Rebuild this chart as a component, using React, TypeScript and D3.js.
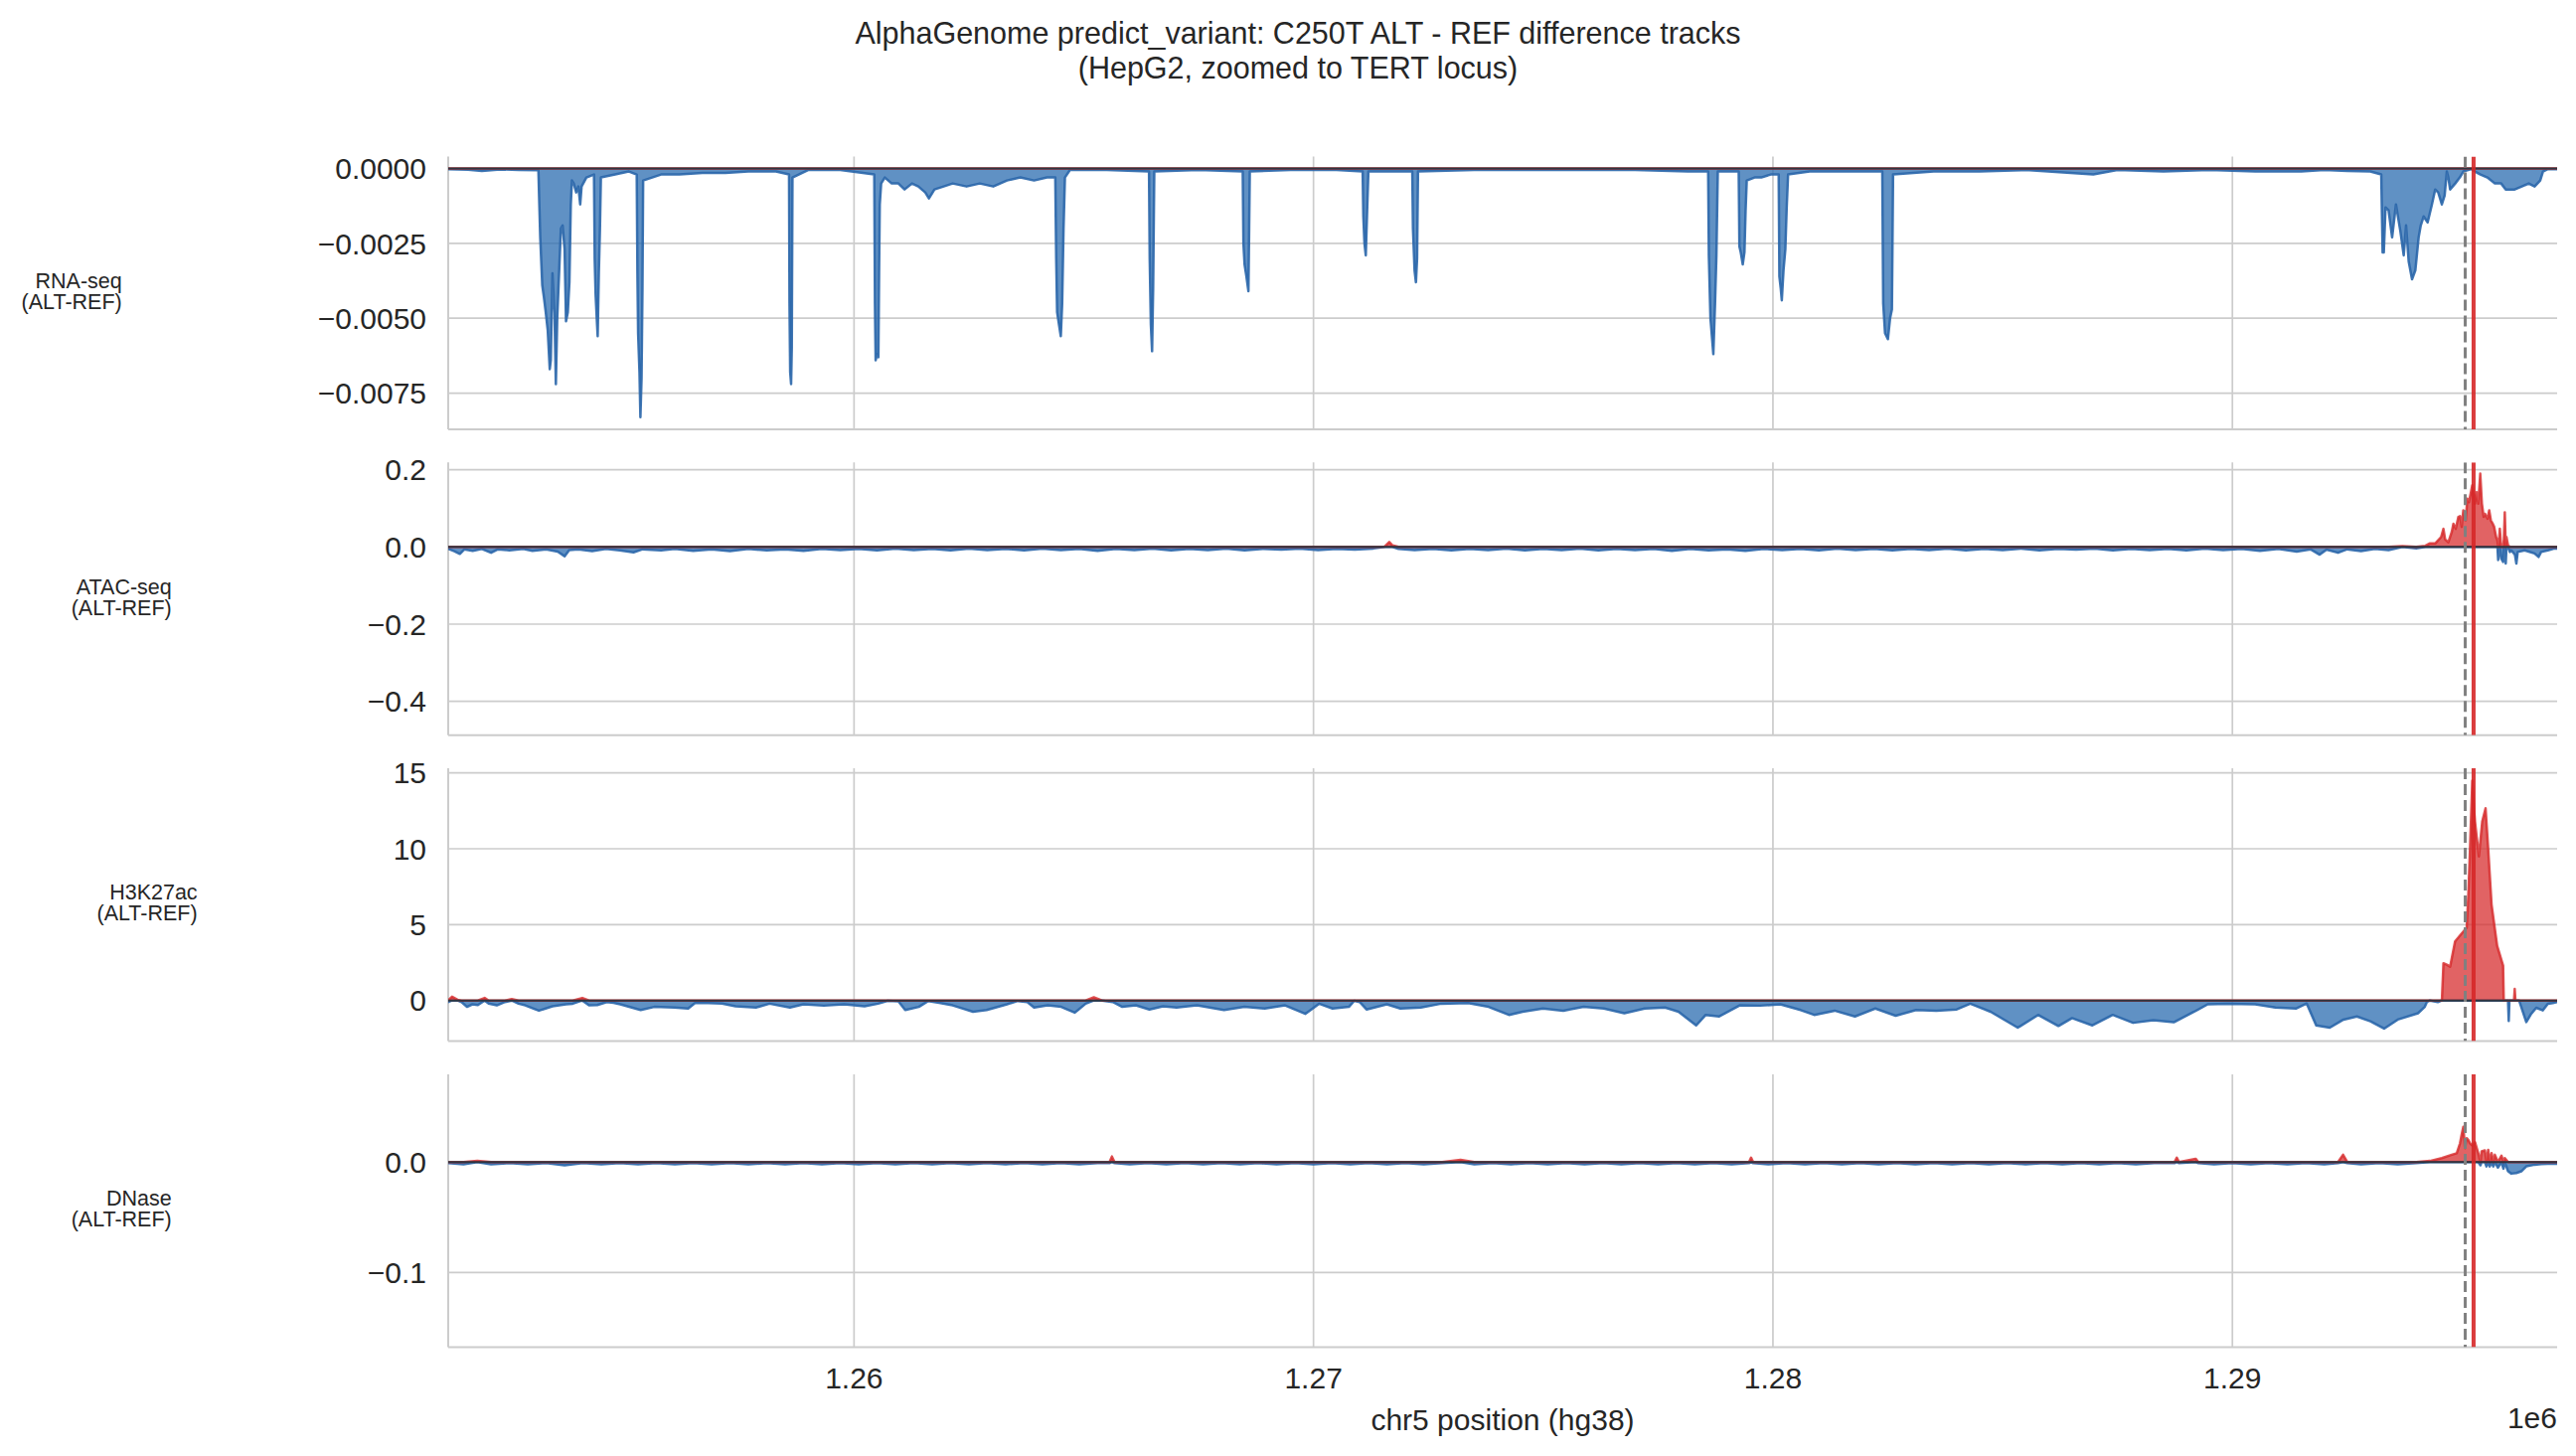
import React from "react";
import * as d3 from "d3";

// genomic window (chr5, hg38) and marker positions
const xDomain: [number, number] = [1251167, 1297068];
const tssPos = 1295068;
const variantPos = 1295250;
const xTicks = [1260000, 1270000, 1280000, 1290000];
const xTickLabels = ["1.26", "1.27", "1.28", "1.29"];

// ALT - REF difference, [position, value]
const rnaSeq: [number, number][] = [
  [1251167, -0.00002], [1251600, -0.00004], [1251900, -0.00008], [1252300, -0.00003], [1252700, -0.00005],
  [1253130, -0.00006], [1253150, -0.0012], [1253170, -0.0023], [1253214, -0.0039], [1253250, -0.0043],
  [1253290, -0.0048], [1253333, -0.0054], [1253377, -0.0067], [1253400, -0.0064], [1253436, -0.0035],
  [1253480, -0.0048], [1253510, -0.0072], [1253540, -0.005], [1253580, -0.0035], [1253620, -0.002],
  [1253657, -0.0019], [1253700, -0.0027], [1253731, -0.0051], [1253770, -0.0048], [1253805, -0.0038],
  [1253835, -0.0012], [1253860, -0.0004], [1253900, -0.0005], [1253953, -0.0008], [1254000, -0.0006],
  [1254040, -0.0012], [1254070, -0.0006], [1254174, -0.0003], [1254340, -0.0002], [1254355, -0.003],
  [1254375, -0.0042], [1254400, -0.005], [1254420, -0.0056], [1254445, -0.0035], [1254470, -0.002],
  [1254490, -0.0003], [1254800, -0.0002], [1255100, -0.0001], [1255270, -0.0002], [1255285, -0.0035],
  [1255300, -0.0055], [1255330, -0.0068], [1255350, -0.0083], [1255375, -0.007], [1255395, -0.004],
  [1255410, -0.0004], [1255800, -0.0002], [1256200, -0.0002], [1256700, -0.00015], [1257200, -0.00015],
  [1257700, -0.0001], [1258300, -0.0001], [1258585, -0.0002], [1258595, -0.0045], [1258610, -0.0068],
  [1258630, -0.0072], [1258645, -0.006], [1258660, -0.0003], [1259000, -0.00005], [1259700, -0.00005],
  [1260440, -0.0002], [1260455, -0.0045], [1260470, -0.0064], [1260500, -0.0062], [1260530, -0.0063],
  [1260545, -0.0035], [1260560, -0.0012], [1260590, -0.0005], [1260670, -0.0003], [1260820, -0.0005],
  [1260965, -0.0005], [1261100, -0.0007], [1261261, -0.0005], [1261400, -0.0006], [1261550, -0.0008],
  [1261630, -0.001], [1261750, -0.0007], [1261950, -0.0006], [1262147, -0.0005], [1262450, -0.0006],
  [1262737, -0.0005], [1263030, -0.0006], [1263328, -0.0004], [1263620, -0.0003], [1263918, -0.0004],
  [1264200, -0.0003], [1264380, -0.0003], [1264400, -0.003], [1264420, -0.0048], [1264460, -0.0052],
  [1264500, -0.0056], [1264530, -0.0045], [1264560, -0.002], [1264590, -0.0003], [1264700, -0.00005],
  [1265500, -0.00005], [1266420, -0.0001], [1266435, -0.003], [1266460, -0.0052], [1266487, -0.0061],
  [1266510, -0.004], [1266535, -0.0001], [1267500, -0.00005], [1268460, -0.0001], [1268475, -0.0025],
  [1268500, -0.0032], [1268540, -0.0036], [1268584, -0.0041], [1268600, -0.002], [1268614, -0.0001],
  [1269500, -0.00005], [1270500, -0.00005], [1271070, -0.0001], [1271085, -0.0016], [1271110, -0.0025],
  [1271138, -0.0029], [1271170, -0.0013], [1271195, -0.0001], [1272150, -0.0001], [1272165, -0.002],
  [1272200, -0.0034], [1272230, -0.0038], [1272255, -0.003], [1272275, -0.0001], [1273500, -0.00005],
  [1275000, -0.00005], [1277000, -0.00005], [1278150, -0.0001], [1278590, -0.0001], [1278605, -0.0029],
  [1278640, -0.005], [1278703, -0.0062], [1278740, -0.0045], [1278770, -0.0029], [1278800, -0.0001],
  [1279255, -0.0001], [1279270, -0.0026], [1279300, -0.0028], [1279343, -0.0032], [1279380, -0.0028],
  [1279405, -0.0014], [1279430, -0.0004], [1279600, -0.0003], [1279746, -0.0003], [1279950, -0.0002],
  [1280125, -0.0002], [1280140, -0.0036], [1280170, -0.004], [1280193, -0.0044], [1280230, -0.0034],
  [1280270, -0.0027], [1280300, -0.0013], [1280330, -0.0002], [1280800, -0.0001], [1281500, -0.0001],
  [1282380, -0.0001], [1282400, -0.0045], [1282440, -0.0055], [1282502, -0.0057], [1282550, -0.005],
  [1282590, -0.0047], [1282615, -0.0002], [1283500, -0.0001], [1284500, -0.0001], [1285500, -0.00005],
  [1286972, -0.0002], [1287500, -0.00005], [1288500, -0.0001], [1289500, -0.00005], [1290500, -0.0001],
  [1291500, -0.0001], [1292000, -0.00005], [1292500, -0.00008], [1293000, -0.0001], [1293240, -0.0002],
  [1293270, -0.0028], [1293296, -0.0028], [1293333, -0.0013], [1293400, -0.0014], [1293477, -0.0023],
  [1293560, -0.0012], [1293657, -0.0021], [1293729, -0.0029], [1293780, -0.0019], [1293837, -0.0031],
  [1293910, -0.0037], [1293982, -0.0034], [1294054, -0.0023], [1294100, -0.0019], [1294162, -0.0016],
  [1294250, -0.0018], [1294343, -0.0012], [1294414, -0.0007], [1294480, -0.0008], [1294559, -0.0012],
  [1294620, -0.0009], [1294667, -0.0001], [1294700, -0.0003], [1294739, -0.0007], [1294850, -0.0005],
  [1294950, -0.0003], [1295027, -0.0001], [1295200, -0.00002], [1295280, -0.0001], [1295400, -0.0002],
  [1295550, -0.0003], [1295713, -0.0005], [1295850, -0.0005], [1295950, -0.0007], [1296145, -0.0007],
  [1296300, -0.0006], [1296450, -0.0005], [1296578, -0.0006], [1296700, -0.0004], [1296760, -0.0001],
  [1296866, -0.00002], [1297068, -0.00002],
];

const atacSeq: [number, number][] = [
  [1251167, -0.005], [1251300, -0.011], [1251420, -0.018], [1251520, -0.006], [1251700, -0.01],
  [1251900, -0.005], [1252100, -0.015], [1252250, -0.006], [1252500, -0.009], [1252800, -0.005],
  [1253000, -0.01], [1253300, -0.006], [1253550, -0.012], [1253700, -0.024], [1253800, -0.008],
  [1254000, -0.006], [1254300, -0.011], [1254600, -0.005], [1254900, -0.009], [1255200, -0.014],
  [1255400, -0.006], [1255800, -0.009], [1256100, -0.005], [1256500, -0.01], [1256900, -0.006],
  [1257300, -0.011], [1257700, -0.005], [1258100, -0.009], [1258500, -0.006], [1258900, -0.01],
  [1259300, -0.005], [1259700, -0.008], [1260100, -0.005], [1260500, -0.009], [1260900, -0.004],
  [1261300, -0.008], [1261700, -0.005], [1262100, -0.009], [1262500, -0.004], [1262900, -0.008],
  [1263300, -0.005], [1263700, -0.009], [1264100, -0.004], [1264500, -0.008], [1264900, -0.005],
  [1265300, -0.01], [1265700, -0.005], [1266100, -0.008], [1266500, -0.004], [1266900, -0.009],
  [1267300, -0.005], [1267700, -0.008], [1268100, -0.004], [1268500, -0.009], [1268900, -0.005],
  [1269300, -0.007], [1269700, -0.004], [1270100, -0.008], [1270500, -0.005], [1270900, -0.007],
  [1271300, -0.004], [1271550, 0.001], [1271650, 0.013], [1271720, 0.004], [1271850, -0.005],
  [1272200, -0.008], [1272600, -0.005], [1273000, -0.009], [1273400, -0.005], [1273800, -0.008],
  [1274200, -0.004], [1274600, -0.009], [1275000, -0.005], [1275400, -0.008], [1275800, -0.004],
  [1276200, -0.009], [1276600, -0.005], [1277000, -0.008], [1277400, -0.005], [1277800, -0.01],
  [1278200, -0.005], [1278600, -0.009], [1279000, -0.006], [1279400, -0.01], [1279800, -0.005],
  [1280200, -0.008], [1280600, -0.005], [1281000, -0.009], [1281400, -0.004], [1281800, -0.008],
  [1282200, -0.005], [1282600, -0.009], [1283000, -0.005], [1283400, -0.008], [1283800, -0.004],
  [1284200, -0.009], [1284600, -0.005], [1285000, -0.008], [1285400, -0.004], [1285800, -0.009],
  [1286200, -0.005], [1286600, -0.007], [1287000, -0.004], [1287400, -0.009], [1287800, -0.005],
  [1288200, -0.008], [1288600, -0.005], [1289000, -0.009], [1289400, -0.004], [1289800, -0.008],
  [1290200, -0.005], [1290600, -0.01], [1291000, -0.005], [1291400, -0.012], [1291700, -0.006],
  [1291900, -0.02], [1292050, -0.007], [1292300, -0.015], [1292500, -0.006], [1292800, -0.011],
  [1293100, -0.005], [1293400, -0.008], [1293700, 0.002], [1294000, -0.004], [1294200, 0.003],
  [1294291, 0.009], [1294414, 0.009], [1294544, 0.026], [1294594, 0.047], [1294630, 0.02],
  [1294700, 0.012], [1294775, 0.039], [1294811, 0.06], [1294862, 0.047], [1294919, 0.078],
  [1294955, 0.08], [1294991, 0.052], [1295027, 0.095], [1295078, 0.069], [1295114, 0.125],
  [1295150, 0.116], [1295222, 0.16], [1295280, 0.112], [1295316, 0.142], [1295352, 0.112],
  [1295395, 0.19], [1295431, 0.112], [1295470, 0.078], [1295496, 0.086], [1295554, 0.073],
  [1295590, 0.095], [1295626, 0.069], [1295660, 0.062], [1295698, 0.052], [1295740, 0.026],
  [1295770, 0.017], [1295785, -0.034], [1295800, 0.01], [1295821, 0.047], [1295850, -0.03],
  [1295893, -0.039], [1295910, 0.02], [1295929, 0.09], [1295950, -0.043], [1295965, 0.026],
  [1296000, 0.004], [1296040, -0.013], [1296073, -0.009], [1296150, -0.02], [1296181, -0.043],
  [1296210, -0.013], [1296361, -0.009], [1296450, -0.012], [1296578, -0.017], [1296664, -0.026],
  [1296720, -0.013], [1296866, -0.009], [1297010, -0.004], [1297068, -0.004],
];

const h3k27ac: [number, number][] = [
  [1251162, -0.1], [1251250, 0.25], [1251369, 0.05], [1251458, -0.1], [1251576, -0.42], [1251694, -0.25],
  [1251812, -0.3], [1251960, 0.17], [1252048, -0.2], [1252225, -0.32], [1252403, -0.1], [1252550, 0.1],
  [1252698, -0.21], [1252845, -0.32], [1253141, -0.67], [1253436, -0.38], [1253731, -0.25], [1253879, -0.21],
  [1254086, 0.17], [1254233, -0.32], [1254411, -0.3], [1254617, -0.1], [1254765, -0.15], [1254913, -0.25],
  [1255356, -0.63], [1255651, -0.42], [1256094, -0.46], [1256389, -0.53], [1256537, -0.17], [1256832, -0.17],
  [1257127, -0.2], [1257423, -0.38], [1257866, -0.46], [1258161, -0.21], [1258604, -0.46], [1258899, -0.25],
  [1259342, -0.34], [1259785, -0.25], [1260228, -0.38], [1260523, -0.21], [1260730, -0.02], [1260966, -0.05],
  [1261114, -0.63], [1261409, -0.42], [1261616, -0.03], [1261852, -0.15], [1262147, -0.32], [1262590, -0.74],
  [1262886, -0.63], [1263329, -0.25], [1263565, -0.03], [1263772, -0.1], [1263919, -0.46], [1264215, -0.32],
  [1264510, -0.42], [1264805, -0.8], [1265041, -0.21], [1265219, 0.21], [1265396, 0.0], [1265632, -0.1],
  [1265839, -0.42], [1266134, -0.32], [1266429, -0.59], [1266725, -0.38], [1267020, -0.46], [1267463, -0.32],
  [1268053, -0.63], [1268496, -0.42], [1268939, -0.53], [1269382, -0.32], [1269825, -0.88], [1270121, -0.21],
  [1270416, -0.53], [1270770, -0.42], [1270888, -0.02], [1271006, -0.1], [1271154, -0.59], [1271597, -0.25],
  [1271892, -0.53], [1272335, -0.46], [1272778, -0.21], [1273369, -0.17], [1273812, -0.42], [1274255, -0.95],
  [1274550, -0.74], [1274993, -0.53], [1275436, -0.67], [1275879, -0.42], [1276322, -0.53], [1276765, -0.84],
  [1277208, -0.53], [1277651, -0.46], [1277946, -0.74], [1278330, -1.64], [1278537, -0.95], [1278832, -1.05],
  [1279275, -0.32], [1279718, -0.34], [1280161, -0.25], [1280604, -0.63], [1280899, -0.95], [1281342, -0.67],
  [1281785, -1.05], [1282228, -0.53], [1282671, -1.0], [1283114, -0.63], [1283557, -0.67], [1284000, -0.59],
  [1284295, -0.21], [1284738, -0.74], [1285328, -1.79], [1285771, -0.95], [1286214, -1.68], [1286510, -1.16],
  [1286953, -1.64], [1287396, -0.95], [1287839, -1.47], [1288281, -1.3], [1288724, -1.43], [1289167, -0.74],
  [1289463, -0.25], [1289906, -0.21], [1290496, -0.25], [1290939, -0.46], [1291382, -0.53], [1291618, -0.2],
  [1291825, -1.64], [1292120, -1.79], [1292416, -1.26], [1292711, -1.05], [1293006, -1.37], [1293302, -1.85],
  [1293597, -1.26], [1294040, -0.84], [1294187, -0.42], [1294234, -0.1], [1294300, 0.0], [1294472, -0.1],
  [1294560, 0.0], [1294594, 2.45], [1294667, 2.36], [1294739, 2.23], [1294847, 3.89], [1294977, 4.37],
  [1295100, 4.8], [1295136, 7.0], [1295172, 10.0], [1295222, 14.48], [1295280, 11.8], [1295366, 9.5],
  [1295438, 11.8], [1295511, 12.67], [1295568, 10.0], [1295641, 6.33], [1295763, 3.6], [1295893, 2.29],
  [1295907, 0.0], [1296000, 0.0], [1296015, -1.35], [1296030, 0.0], [1296130, 0.0], [1296145, 0.76],
  [1296160, 0.0], [1296240, 0.0], [1296289, -0.44], [1296397, -1.42], [1296506, -0.87], [1296614, -0.48],
  [1296758, -0.65], [1296866, -0.22], [1296974, -0.17], [1297068, -0.1],
];

const dnase: [number, number][] = [
  [1251167, -0.001], [1251500, -0.002], [1251800, 0.001], [1252100, -0.002], [1252500, -0.001],
  [1252900, -0.002], [1253300, -0.001], [1253700, -0.003], [1254100, -0.001], [1254500, -0.002],
  [1254900, -0.001], [1255300, -0.002], [1255700, -0.001], [1256100, -0.002], [1256500, -0.001],
  [1256900, -0.002], [1257300, -0.001], [1257700, -0.002], [1258100, -0.001], [1258500, -0.002],
  [1258900, -0.001], [1259300, -0.002], [1259700, -0.001], [1260100, -0.002], [1260500, -0.001],
  [1260900, -0.002], [1261300, -0.001], [1261700, -0.002], [1262100, -0.001], [1262500, -0.002],
  [1262900, -0.001], [1263300, -0.002], [1263700, -0.001], [1264100, -0.002], [1264500, -0.001],
  [1264900, -0.002], [1265300, -0.001], [1265560, -0.001], [1265613, 0.005], [1265670, -0.001],
  [1266000, -0.002], [1266400, -0.001], [1266800, -0.002], [1267200, -0.001], [1267600, -0.002],
  [1268000, -0.001], [1268400, -0.002], [1268800, -0.001], [1269200, -0.002], [1269600, -0.001],
  [1270000, -0.002], [1270400, -0.001], [1270800, -0.002], [1271200, -0.001], [1271600, -0.002],
  [1272000, -0.001], [1272400, -0.002], [1272800, -0.001], [1273200, 0.002], [1273500, -0.002],
  [1273900, -0.001], [1274300, -0.002], [1274700, -0.001], [1275100, -0.002], [1275500, -0.001],
  [1275900, -0.002], [1276300, -0.001], [1276700, -0.002], [1277100, -0.001], [1277500, -0.002],
  [1277900, -0.001], [1278300, -0.002], [1278700, -0.001], [1279100, -0.002], [1279480, -0.001],
  [1279524, 0.004], [1279570, -0.001], [1279900, -0.002], [1280300, -0.001], [1280700, -0.002],
  [1281100, -0.001], [1281500, -0.002], [1281900, -0.001], [1282300, -0.002], [1282700, -0.001],
  [1283100, -0.002], [1283500, -0.001], [1283900, -0.002], [1284300, -0.001], [1284700, -0.002],
  [1285100, -0.001], [1285500, -0.002], [1285900, -0.001], [1286300, -0.002], [1286700, -0.001],
  [1287100, -0.002], [1287500, -0.001], [1287900, -0.002], [1288300, -0.001], [1288740, -0.001],
  [1288790, 0.004], [1288840, -0.001], [1289200, 0.003], [1289260, -0.001], [1289600, -0.002],
  [1290000, -0.001], [1290400, -0.002], [1290800, -0.001], [1291200, -0.002], [1291600, -0.001],
  [1292000, -0.002], [1292300, -0.001], [1292409, 0.0066], [1292500, -0.001], [1292800, -0.002],
  [1293200, -0.001], [1293600, -0.002], [1294000, -0.001], [1294300, 0.001], [1294559, 0.0036],
  [1294775, 0.0066], [1294883, 0.008], [1294955, 0.017], [1294991, 0.025], [1295027, 0.032],
  [1295063, 0.0126], [1295100, 0.0216], [1295136, 0.02], [1295172, 0.017], [1295222, 0.015],
  [1295280, 0.018], [1295352, 0.008], [1295400, -0.003], [1295424, 0.0096], [1295496, 0.0105],
  [1295530, -0.004], [1295568, 0.011], [1295600, -0.004], [1295641, 0.008], [1295680, -0.004],
  [1295713, 0.0066], [1295780, -0.005], [1295857, 0.0057], [1295900, -0.006], [1295929, 0.0036],
  [1296001, -0.0084], [1296073, -0.0105], [1296181, -0.0099], [1296289, -0.0084], [1296397, -0.0039],
  [1296578, -0.0024], [1296722, -0.0018], [1296866, -0.0015], [1297068, -0.0015],
];

const trackNames = ["RNA-seq", "ATAC-seq", "H3K27ac", "DNase"];
const trackData = [rnaSeq, atacSeq, h3k27ac, dnase];
const yDomains: [number, number][] = [[-0.00871, 0.0004], [-0.488, 0.219], [-2.68, 15.3], [-0.1676, 0.0795]];
const yTicks = [[0, -0.0025, -0.005, -0.0075], [0.2, 0, -0.2, -0.4], [0, 5, 10, 15], [0, -0.1]];
const yFormats = [".4f", ".1f", ".0f", ".1f"];

const W = 2592;
const H = 1465;
const left = 451;
const right = 2573;
const top0 = 157.5;
const step = 307.8;
const panelH = 274.5;
const FONT = '"Liberation Sans", Arial, sans-serif';
const TXT = "#262626";

const BLUE = "#2b6cb0";
const BLUE_LINE = "#2a66aa";
const RED = "#d62728";

const measure = (() => {
  const ctx = document.createElement("canvas").getContext("2d");
  return (s: string, size: number) => {
    if (!ctx) return s.length * size * 0.55;
    ctx.font = `${size}px "Liberation Sans", Arial, sans-serif`;
    return ctx.measureText(s).width;
  };
})();

const x = d3.scaleLinear().domain(xDomain).range([left, right]);

function Panel({ i }: { i: number }) {
  const top = top0 + i * step;
  const bottom = top + panelH;
  const y = d3.scaleLinear().domain(yDomains[i]).range([bottom, top]);
  const data = trackData[i];
  const fmt = d3.format(yFormats[i]);
  const posArea = d3.area<[number, number]>().x((d) => x(d[0])).y0(y(0)).y1((d) => y(Math.max(d[1], 0)));
  const negArea = d3.area<[number, number]>().x((d) => x(d[0])).y0(y(0)).y1((d) => y(Math.min(d[1], 0)));
  const posLine = d3.line<[number, number]>().x((d) => x(d[0])).y((d) => y(Math.max(d[1], 0)));
  const negLine = d3.line<[number, number]>().x((d) => x(d[0])).y((d) => y(Math.min(d[1], 0)));
  const tickW = d3.max(yTicks[i], (t) => measure(fmt(t), 30)) || 0;
  const labelX = left - 22 - tickW - 197;
  const cy = (top + bottom) / 2;
  const clipId = `clip${i}`;
  return (
    <g>
      <defs>
        <clipPath id={clipId}>
          <rect x={left} y={top} width={right - left} height={panelH} />
        </clipPath>
      </defs>
      {xTicks.map((t) => (
        <line key={t} x1={x(t)} x2={x(t)} y1={top} y2={bottom} stroke="#cccccc" strokeWidth={1.7} />
      ))}
      {yTicks[i].map((t) => (
        <g key={t}>
          <line x1={left} x2={right} y1={y(t)} y2={y(t)} stroke="#cccccc" strokeWidth={1.7} />
          <text x={left - 22} y={y(t)} dy="0.36em" textAnchor="end" fontSize={30} fill={TXT}>
            {fmt(t)}
          </text>
        </g>
      ))}
      <line x1={left} x2={left} y1={top} y2={bottom} stroke="#cccccc" strokeWidth={2} />
      <line x1={left} x2={right} y1={bottom} y2={bottom} stroke="#cccccc" strokeWidth={2} />
      <g clipPath={`url(#${clipId})`}>
        <path d={negArea(data) || ""} fill={BLUE} fillOpacity={0.75} />
        <path d={negLine(data) || ""} fill="none" stroke={BLUE_LINE} strokeOpacity={0.9} strokeWidth={2.5}
          strokeLinejoin="round" />
        <path d={posArea(data) || ""} fill={RED} fillOpacity={0.72} />
        <path d={posLine(data) || ""} fill="none" stroke={RED} strokeOpacity={0.8} strokeWidth={2.5}
          strokeLinejoin="round" />
        <line x1={left} x2={right} y1={y(0)} y2={y(0)} stroke="#2f3540" strokeWidth={2} />
        <line x1={x(tssPos)} x2={x(tssPos)} y1={top} y2={bottom} stroke="#808080" strokeWidth={3}
          strokeDasharray="11 5" />
        <line x1={x(variantPos)} x2={x(variantPos)} y1={top} y2={bottom} stroke={RED} strokeOpacity={0.9}
          strokeWidth={4} />
      </g>
      <text x={labelX} y={cy - 5} textAnchor="end" fontSize={21.5} fill={TXT}>
        <tspan x={labelX}>{trackNames[i]}</tspan>
        <tspan x={labelX} dy={21}>(ALT-REF)</tspan>
      </text>
    </g>
  );
}

export default function App() {
  return (
    <svg width={W} height={H} style={{ position: "absolute", left: 0, top: 0, background: "#fff" }}
      fontFamily={FONT}>
      <rect width={W} height={H} fill="#fff" />
      <text x={1306} y={43.5} textAnchor="middle" fontSize={30.5} fill={TXT}>
        AlphaGenome predict_variant: C250T ALT - REF difference tracks
      </text>
      <text x={1306} y={78.5} textAnchor="middle" fontSize={30.5} fill={TXT}>
        (HepG2, zoomed to TERT locus)
      </text>
      {trackNames.map((n, i) => (
        <Panel key={n} i={i} />
      ))}
      {xTicks.map((t, k) => (
        <text key={t} x={x(t)} y={1397} textAnchor="middle" fontSize={30} fill={TXT}>
          {xTickLabels[k]}
        </text>
      ))}
      <text x={right} y={1437} textAnchor="end" fontSize={30} fill={TXT}>1e6</text>
      <text x={(left + right) / 2} y={1439} textAnchor="middle" fontSize={30} fill={TXT}>
        chr5 position (hg38)
      </text>
    </svg>
  );
}
